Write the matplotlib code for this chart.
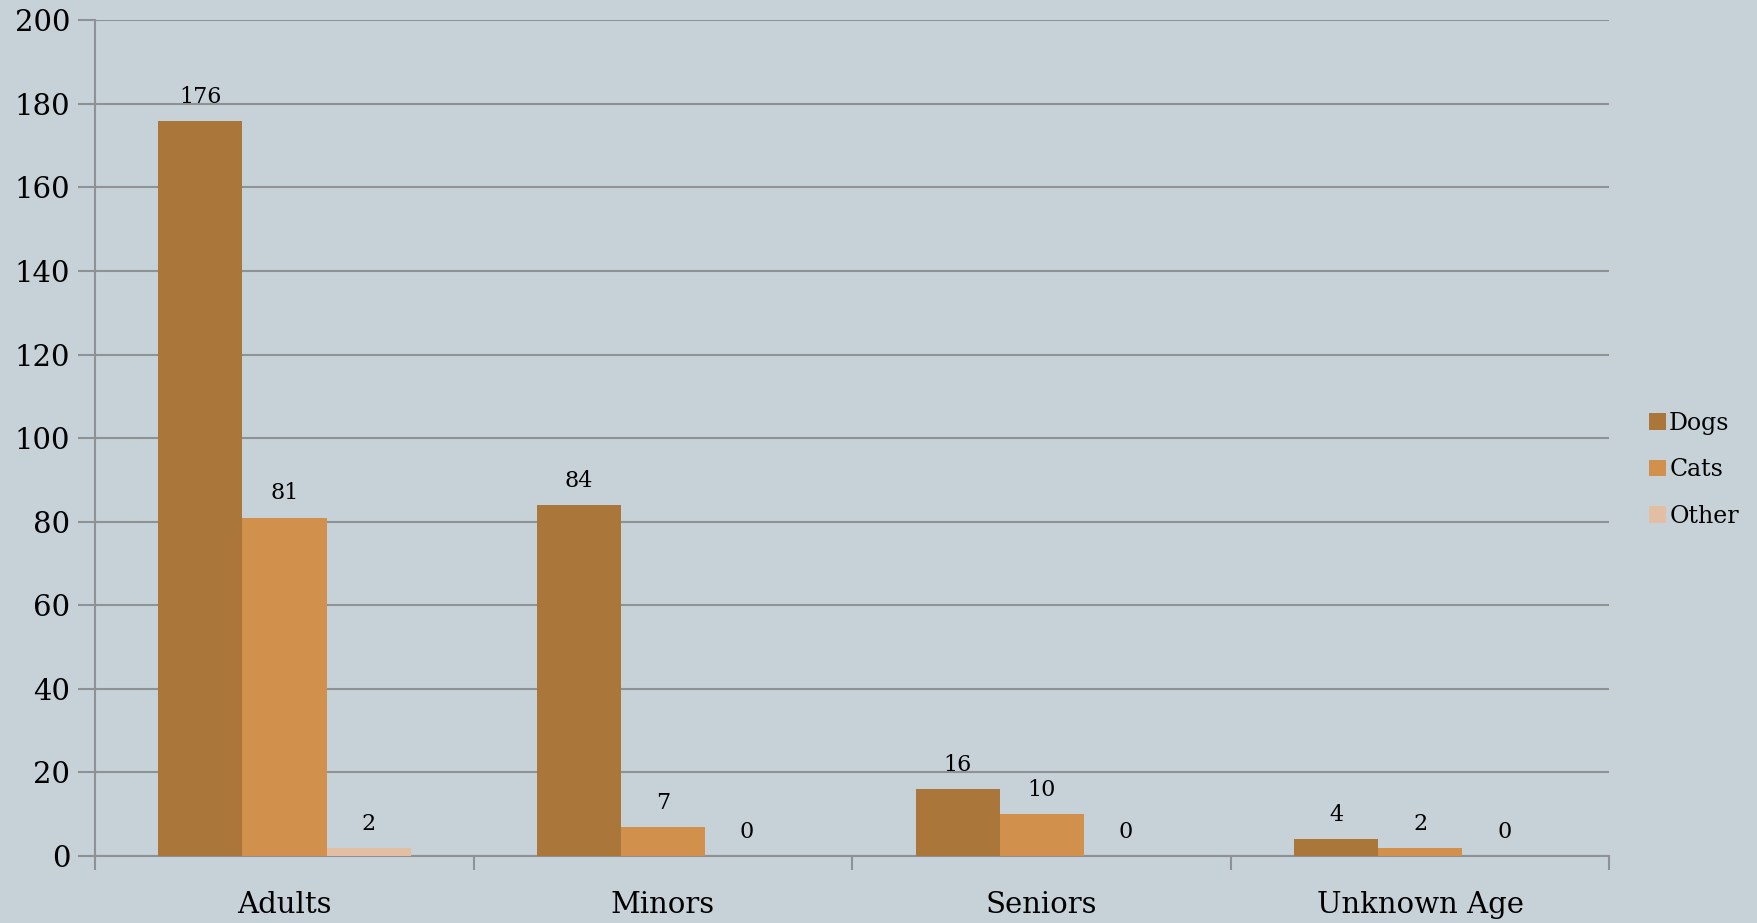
import matplotlib
matplotlib.use("Agg")
import matplotlib.pyplot as plt
import numpy as np

categories = ["Adults", "Minors", "Seniors", "Unknown Age"]
series_names = ["Dogs", "Cats", "Other"]
dogs = [176, 84, 16, 4]
cats = [81, 7, 10, 2]
other = [2, 0, 0, 0]
yticks = [0, 20, 40, 60, 80, 100, 120, 140, 160, 180, 200]

colors = ["#AB763A", "#D1904B", "#E2BEA2"]
bg = "#C6D2D8"
gridc = "#8E9294"

plt.rcParams['font.family'] = ['DejaVu Serif']

fig = plt.figure(figsize=(17.57, 9.23), dpi=100, facecolor=bg)
ax = fig.add_axes([0.0542, 0.0726, 0.8618, 0.9054])
ax.set_facecolor(bg)

x = np.arange(len(categories))
w = 0.222
for i, (name, vals) in enumerate(zip(series_names, [dogs, cats, other])):
    pos = x + (i - 1) * w
    ax.bar(pos, vals, width=w, color=colors[i], label=name, zorder=3)
    for px, v in zip(pos, vals):
        ax.annotate(str(v), (px, v), xytext=(0, 13), textcoords="offset points",
                    ha="center", va="baseline", fontsize=16, color="black")

ax.set_xlim(-0.5, len(categories) - 0.5)
ax.set_ylim(0, 200)
ax.set_yticks(yticks)
ax.set_yticklabels([str(t) for t in yticks], fontsize=21)
ax.yaxis.grid(True, color=gridc, linewidth=1.5, zorder=0)
ax.tick_params(axis='y', length=12, width=1.5, color=gridc, pad=6)

ax.set_xticks(x)
ax.set_xticklabels(categories, fontsize=21)
ax.tick_params(axis='x', length=0, pad=25)
ax.set_xticks(np.arange(len(categories) + 1) - 0.5, minor=True)
ax.tick_params(axis='x', which='minor', length=10, width=1.5, color=gridc)

for s in ["top", "right"]:
    ax.spines[s].set_visible(False)
for s in ["left", "bottom"]:
    ax.spines[s].set_color(gridc)
    ax.spines[s].set_linewidth(1.5)

leg = fig.legend(loc="center left", bbox_to_anchor=(0.9265, 0.491), frameon=False,
                 fontsize=17, handlelength=0.7, handleheight=0.7, handletextpad=0.15,
                 labelspacing=1.0)

fig.savefig("out.png", dpi=100, facecolor=bg)
